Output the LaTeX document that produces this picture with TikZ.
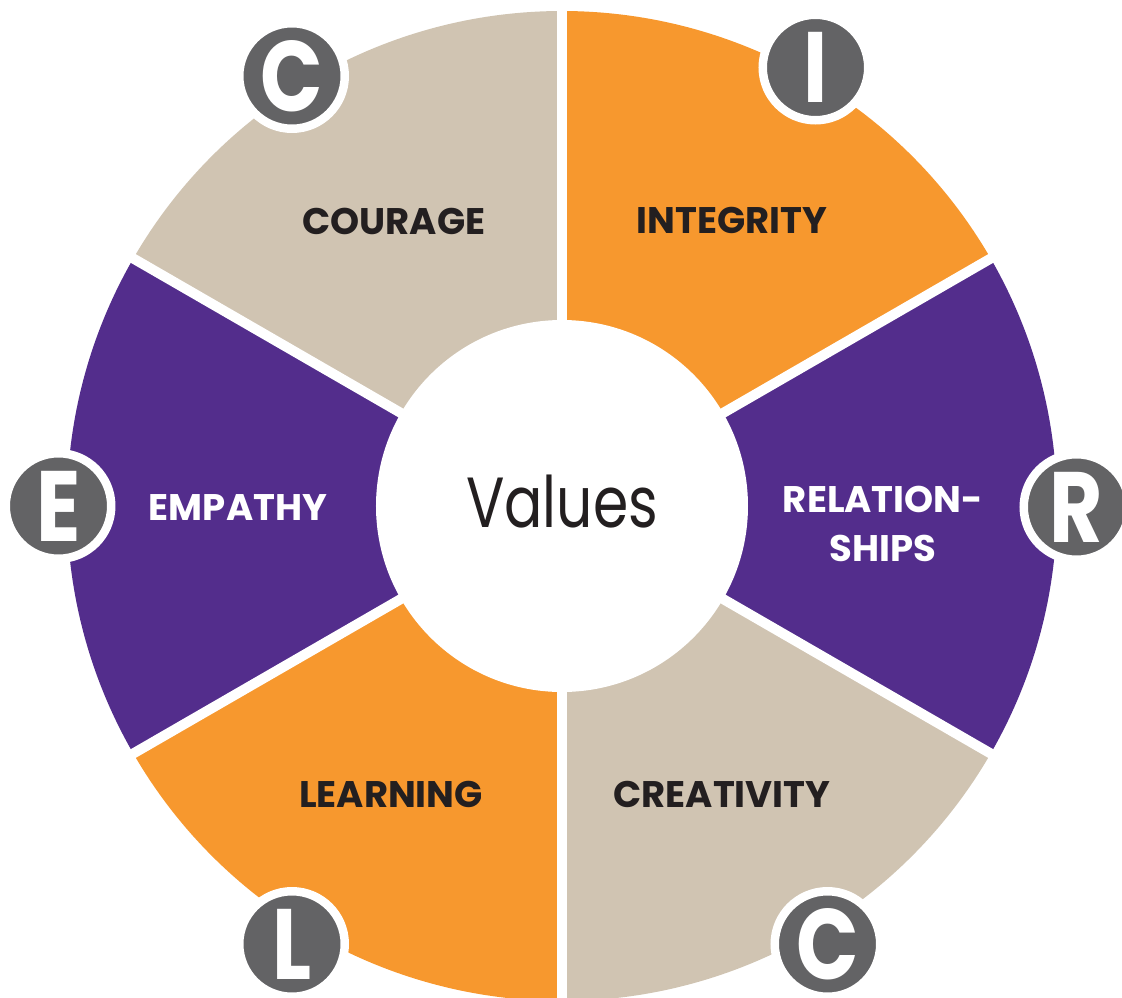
\documentclass[tikz,border=0pt]{standalone}
\usepackage{fontspec}
\setmainfont{Poppins}
\usepackage{tikz}
\definecolor{valtan}{RGB}{208,196,178}
\definecolor{valorange}{RGB}{247,152,46}
\definecolor{valpurple}{RGB}{83,45,140}
\definecolor{discgray}{RGB}{99,99,101}
\definecolor{inkdark}{RGB}{35,31,32}

\begin{document}
\begin{tikzpicture}[x=1pt, y=1pt,
    seglabel/.style={inner sep=0pt, align=center, font=\fontsize{37}{49}\selectfont\bfseries},
    letterdisc/.style={circle, fill=discgray, draw=white, line width=8.5, minimum size=105.5, inner sep=0pt},
    discletter/.style={inner sep=0pt, text=white, xscale=0.82, transform shape,
        font=\fontsize{100}{100}\selectfont\bfseries}]

\useasboundingbox (-562, -491) rectangle (560, 506);

% =============================================================================
% ANNEAU (6 secteurs)
% =============================================================================
\foreach \a/\col in {90/valtan, 30/valorange, -30/valpurple, -90/valtan, -150/valorange, 150/valpurple} {
    \fill[\col] (0, 0) -- (\a:495) arc[start angle=\a, delta angle=60, radius=495] -- cycle;
}

% Separations blanches
\foreach \a in {90, 30, -30, -90, -150, 150} {
    \draw[white, line width=10] (0, 0) -- (\a:505);
}

% =============================================================================
% CERCLE CENTRAL
% =============================================================================
\fill[white] (0, 0) circle (186);
\node[inner sep=0pt, text=inkdark, xscale=0.8, transform shape,
    font=\fontsize{71}{71}\selectfont] (values) at (0, 4) {Values};

% =============================================================================
% LIBELLES DES SECTEURS
% =============================================================================
\node[seglabel, text=inkdark] (courage) at (-168, 284.5) {COURAGE};
\node[seglabel, text=inkdark] (integrity) at (170, 286) {INTEGRITY};
\node[seglabel, text=white] (relations) at (321, -18) {RELATION-\\SHIPS};
\node[seglabel, text=inkdark] (creativity) at (160, -288) {CREATIVITY};
\node[seglabel, text=inkdark] (learning) at (-171, -288) {LEARNING};
\node[seglabel, text=white] (empathy) at (-324, -2) {EMPATHY};

% =============================================================================
% PASTILLES (C I R C L E)
% =============================================================================
\foreach \name/\pos/\letter in {c/{(-270, 430)}/C, i/{(253.5, 438.5)}/I, r/{(514.5, -1)}/R,
        c2/{(265.5, -438)}/C, l/{(-270, -438)}/L, e/{(-503.5, 0)}/E} {
    \node[letterdisc] (disc-\name) at \pos {};
    \node[discletter] (letter-\name) at (disc-\name.center) {\letter};
}

\end{tikzpicture}
\end{document}
